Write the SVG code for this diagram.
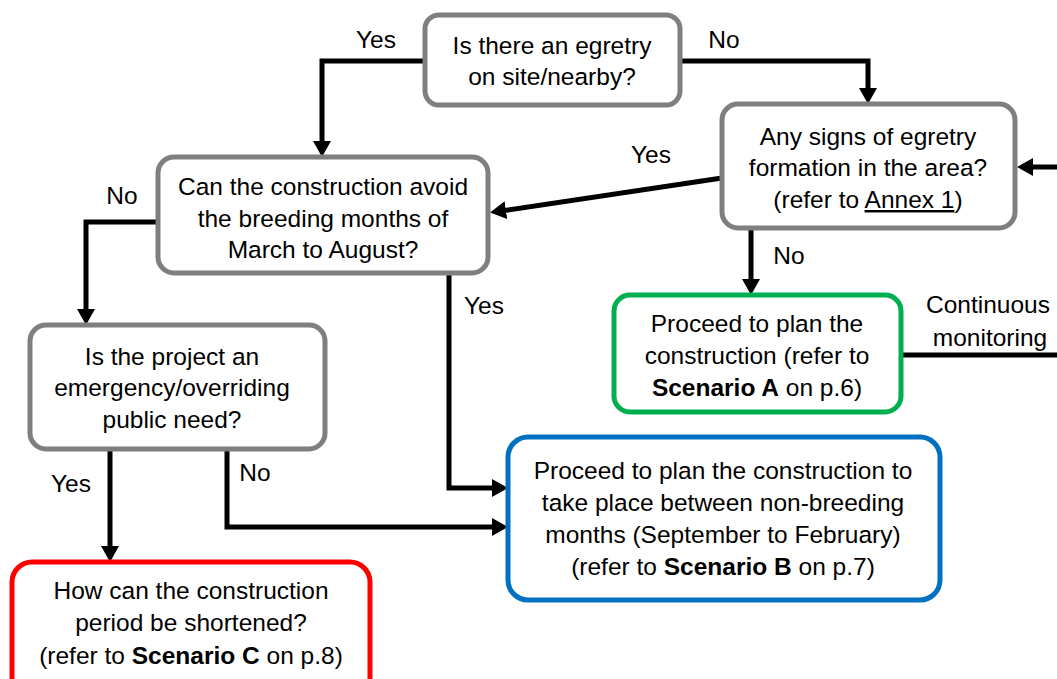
<svg xmlns="http://www.w3.org/2000/svg" width="1057" height="679" viewBox="0 0 1057 679">
<defs>
<style>
text{font-family:"Liberation Sans",Arial,sans-serif;font-size:24.5px;fill:#000;}
.c{text-anchor:middle;}
.box{fill:#fff;stroke-width:5;}
.grey{stroke:#7f7f7f;}
.green{stroke:#00b050;}
.blue{stroke:#0070c0;}
.red{stroke:#ff0000;}
.conn{fill:none;stroke:#000;stroke-width:5;marker-end:url(#arr);}
.plain{fill:none;stroke:#000;stroke-width:5;}
.b{font-weight:bold;}
</style>
<marker id="arr" markerUnits="userSpaceOnUse" markerWidth="16" markerHeight="18" viewBox="0 0 16 18" refX="5" refY="9" orient="auto">
<path d="M0,0 L16,9 L0,18 Z" fill="#000"/>
</marker>
</defs>

<g id="connectors">
<polyline class="conn" points="425,61 322,61 322,146"/>
<polyline class="conn" points="680,61 868,61 868,93"/>
<polyline class="conn" points="1057,167 1028,167"/>
<polyline class="conn" points="722,178 501,211"/>
<polyline class="conn" points="751,228 751,284"/>
<polyline class="conn" points="158,222 86,222 86,314"/>
<polyline class="conn" points="449,273 449,488 497,488"/>
<polyline class="conn" points="110,449 110,551"/>
<polyline class="conn" points="227,449 227,527 497,527"/>
<polyline class="plain" points="901,355 1057,355"/>
<text x="376" y="48" class="c">Yes</text>
<text x="724" y="48" class="c">No</text>
<text x="651" y="163" class="c">Yes</text>
<text x="789" y="264" class="c">No</text>
<text x="122" y="204" class="c">No</text>
<text x="484" y="314" class="c">Yes</text>
<text x="71" y="492" class="c">Yes</text>
<text x="255" y="481" class="c">No</text>
<text x="988" y="313" class="c">Continuous</text>
<text x="990" y="346" class="c">monitoring</text>
</g>

<g id="n1">
<rect class="box grey" x="425" y="15" width="255" height="90" rx="14"/>
<text x="552" y="54" class="c">Is there an egretry</text>
<text x="552" y="85" class="c">on site/nearby?</text>
</g>

<g id="n3">
<rect class="box grey" x="722" y="104" width="293" height="124" rx="16"/>
<text x="868" y="145" class="c">Any signs of egretry</text>
<text x="868" y="176" class="c">formation in the area?</text>
<text x="868" y="208" class="c">(refer to <tspan text-decoration="underline">Annex 1</tspan>)</text>
</g>

<g id="n2">
<rect class="box grey" x="158" y="157" width="330" height="116" rx="16"/>
<text x="323" y="195" class="c">Can the construction avoid</text>
<text x="323" y="227" class="c">the breeding months of</text>
<text x="323" y="258" class="c">March to August?</text>
</g>

<g id="n4">
<rect class="box grey" x="30" y="325" width="295" height="124" rx="16"/>
<text x="172" y="365" class="c">Is the project an</text>
<text x="172" y="396" class="c">emergency/overriding</text>
<text x="172" y="428" class="c">public need?</text>
</g>

<g id="n5">
<rect class="box green" x="614" y="295" width="287" height="117" rx="16"/>
<text x="757" y="332" class="c">Proceed to plan the</text>
<text x="757" y="364" class="c">construction (refer to</text>
<text x="757" y="396" class="c"><tspan class="b">Scenario A</tspan> on p.6)</text>
</g>

<g id="n6">
<rect class="box blue" x="508" y="437" width="432" height="163" rx="20"/>
<text x="723" y="479" class="c">Proceed to plan the construction to</text>
<text x="723" y="511" class="c">take place between non-breeding</text>
<text x="723" y="543" class="c">months (September to February)</text>
<text x="723" y="575" class="c">(refer to <tspan class="b">Scenario B</tspan> on p.7)</text>
</g>

<g id="n7">
<rect class="box red" x="12" y="562" width="358" height="140" rx="20"/>
<text x="191" y="599" class="c">How can the construction</text>
<text x="191" y="631" class="c">period be shortened?</text>
<text x="191" y="664" class="c">(refer to <tspan class="b">Scenario C</tspan> on p.8)</text>
</g>
</svg>
